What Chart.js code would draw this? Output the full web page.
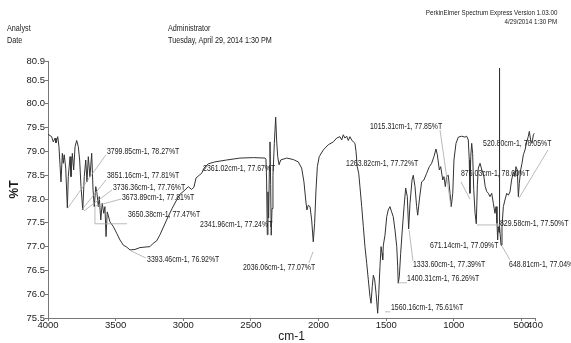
<!DOCTYPE html>
<html><head><meta charset="utf-8">
<script src="https://cdn.jsdelivr.net/npm/chart.js@4.4.1/dist/chart.umd.min.js"></script>
<style>
html,body{margin:0;padding:0;background:#fff;}
#wrap{position:relative;width:571px;height:343px;overflow:hidden;background:#fff;}
canvas{position:absolute;left:0;top:0;}
.t{position:absolute;font-family:"Liberation Sans",Arial,sans-serif;color:#1a1a1a;white-space:nowrap;line-height:1;}
.l{transform:scaleX(0.82);transform-origin:left center;}
.r{transform:scaleX(0.82);transform-origin:right center;}
</style></head><body>
<div id="wrap">
<canvas id="c" width="571" height="343"></canvas>
<div class="t r" style="right:14px;top:9px;font-size:7.6px">PerkinElmer Spectrum Express Version 1.03.00</div>
<div class="t r" style="right:14px;top:18px;font-size:7.6px">4/29/2014 1:30 PM</div>
<div class="t l" style="left:7px;top:24px;font-size:8.8px">Analyst</div>
<div class="t l" style="left:7px;top:36px;font-size:8.8px">Date</div>
<div class="t l" style="left:168px;top:24px;font-size:8.8px">Administrator</div>
<div class="t l" style="left:168px;top:36px;font-size:8.8px">Tuesday, April 29, 2014 1:30 PM</div>
</div>
<script>
// ---- spectrum data (cm-1, %T) ----
const wavenumbers = [4000,3973,3961,3948,3941,3928,3919,3904,3894,3887,3880,3869,3857,3850,3837,3830,3820,3810,3800,3788,3776,3766,3756,3743,3732,3721,3712,3702,3690,3677,3667,3658,3647,3638,3628,3621,3610,3599,3588,3579,3571,3562,3542,3517,3492,3468,3443,3418,3394,3357,3320,3283,3246,3222,3197,3172,3123,3083,3049,3024,2987,2963,2938,2921,2906,2882,2864,2847,2815,2766,2679,2581,2482,2396,2389,2384,2379,2374,2369,2363,2359,2354,2350,2344,2337,2327,2317,2310,2302,2292,2280,2236,2187,2150,2125,2108,2095,2086,2076,2063,2051,2039,2029,2019,2009,1995,1965,1928,1891,1866,1842,1829,1817,1805,1792,1780,1768,1755,1743,1731,1723,1714,1703,1694,1681,1669,1657,1644,1632,1620,1612,1603,1595,1585,1575,1563,1555,1546,1538,1531,1526,1521,1509,1496,1485,1472,1460,1448,1435,1422,1415,1411,1403,1393,1381,1368,1356,1344,1334,1324,1309,1300,1287,1275,1267,1255,1238,1221,1201,1181,1164,1147,1132,1122,1107,1097,1082,1073,1063,1053,1041,1028,1019,1008,999,984,967,942,918,905,893,886,881,875,868,861,853,843,834,826,819,806,793,781,768,757,745,733,720,708,696,688,681,676,671,666,664.5,663,659,651,644,634,622,609,597,585,573,560,548,541,531,523,516,506,496,486,474,461,450,442,432,422,412,405];
const transmittance = [79.36,79.31,79.20,79.28,79.18,79.31,79.10,78.36,78.96,78.75,78.93,78.65,77.81,78.47,78.89,78.47,78.96,78.61,79.10,79.23,79.10,78.82,78.26,77.77,78.47,78.82,78.36,78.89,78.47,78.96,78.19,77.84,78.26,78.12,77.84,78.05,77.56,77.91,77.70,77.84,77.21,77.73,77.52,77.42,77.28,77.14,77.03,76.99,76.93,76.94,76.98,76.99,77.00,77.07,77.12,77.25,77.56,77.80,77.98,78.10,78.19,78.26,78.20,78.25,78.44,78.50,78.54,78.65,78.74,78.78,78.82,78.86,78.87,78.86,78.84,78.40,77.25,78.15,77.60,78.70,79.20,78.30,77.24,77.80,78.50,79.17,79.72,79.24,78.89,78.72,78.82,78.86,78.83,78.78,78.65,78.36,77.98,77.77,77.87,77.84,77.56,77.10,77.49,78.19,78.68,78.89,79.03,79.14,79.20,79.28,79.31,79.24,79.35,79.28,79.32,79.23,79.31,79.24,79.20,79.17,79.00,78.68,78.54,78.26,77.84,77.42,77.00,76.65,76.30,75.95,75.81,76.16,76.40,76.30,76.02,75.60,76.02,76.58,77.00,76.86,76.72,77.03,77.24,77.63,77.77,77.84,77.73,77.63,77.35,77.00,76.58,76.23,76.37,76.86,77.35,77.84,78.23,78.05,77.37,77.91,78.40,78.50,78.26,77.84,77.66,77.98,78.36,78.40,78.54,78.68,78.75,78.89,79.05,78.93,78.61,78.68,78.40,78.47,78.26,78.47,78.50,78.12,77.84,78.12,78.82,79.17,79.30,79.32,79.30,79.32,79.24,78.82,78.12,78.89,79.17,78.96,78.20,77.70,77.48,78.30,78.65,78.75,78.61,78.54,78.26,78.16,78.12,78.05,78.12,77.91,77.70,77.84,77.49,77.14,77.42,77.30,80.75,77.30,77.42,77.03,77.42,77.84,77.98,78.12,78.08,78.15,78.40,78.57,78.47,78.68,78.61,78.05,78.33,78.61,78.75,78.93,79.03,79.20,79.31,79.42,79.24,79.17,79.35,79.38];

// ---- axis ticks ----
const xTickValues = [4000,3500,3000,2500,2000,1500,1000,500,400];
const yTickValues = [75.5,76.0,76.5,77.0,77.5,78.0,78.5,79.0,79.5,80.0,80.5,80.9];

// ---- peak picks (text values) ----
const peakWavenumbers = [3799.85,3851.16,3736.36,3673.89,3650.38,3393.46,2361.02,2341.96,2036.06,1263.82,1015.31,1333.60,1400.31,1560.16,876.03,520.80,829.58,671.14,648.81];
const peakTransmittance = [78.27,77.81,77.76,77.81,77.47,76.92,77.67,77.24,77.07,77.72,77.85,77.39,76.26,75.61,78.00,78.05,77.50,77.09,77.04];

// ---- label placement, in data units (cm-1, %T) ----
const labelAnchorWn = [3564,3564,3520,3453,3409,3268,2854,2876,2559,1797,1620,1302,1346,1465,947,784,659,1176,592];
const labelAnchorT  = [78.99,78.48,78.23,78.02,77.66,76.72,78.63,77.455,76.55,78.74,79.51,76.61,76.32,75.71,78.53,79.16,77.48,77.01,76.61];
// leader polylines in data units
const leaderLines = [
  [[3571,78.93],[3854,77.81]],
  [[3571,78.40],[3751,77.77]],
  [[3527,78.19],[3734,77.75]],
  [[3460,78.00],[3653,77.85]],
  [[3416,77.48],[3653,77.48],[3653,77.83]],
  [[3276,76.76],[3386,76.91]],
  [[2071,76.66],[2041,76.89]],
  [[1102,79.45],[1021,77.83]],
  [[1302,76.70],[1331,77.35]],
  [[1346,76.24],[1413,76.24]],
  [[1509,75.63],[1472,75.63]],
  [[947,78.36],[881,78.00]],
  [[304,79.03],[518,78.02]],
  [[659,77.455],[829,77.455]],
  [[585,76.72],[644,77.01]]
];

const FONT = '"Liberation Sans",Arial,sans-serif';
Chart.defaults.font.family = FONT;
Chart.defaults.color = '#1a1a1a';

const peakPlugin = {
  id: 'peaks',
  afterDatasetsDraw(chart) {
    const ctx = chart.ctx, xs = chart.scales.x, ys = chart.scales.y;
    ctx.save();
    ctx.strokeStyle = '#a8a8a8';
    ctx.lineWidth = 0.8;
    leaderLines.forEach(line => {
      ctx.beginPath();
      line.forEach((p, i) => {
        const px = xs.getPixelForValue(p[0]), py = ys.getPixelForValue(p[1]);
        if (i === 0) ctx.moveTo(px, py); else ctx.lineTo(px, py);
      });
      ctx.stroke();
    });
    ctx.fillStyle = '#1a1a1a';
    ctx.font = '8.2px ' + FONT;
    ctx.textBaseline = 'middle';
    ctx.textAlign = 'left';
    const sx = 0.85;
    peakWavenumbers.forEach((wn, i) => {
      const txt = wn.toFixed(2) + 'cm-1, ' + peakTransmittance[i].toFixed(2) + '%T';
      const px = xs.getPixelForValue(labelAnchorWn[i]), py = ys.getPixelForValue(labelAnchorT[i]);
      ctx.save();
      ctx.translate(px, py);
      ctx.scale(sx, 1);
      ctx.fillText(txt, 0, 0);
      ctx.restore();
    });
    ctx.restore();
  }
};

new Chart(document.getElementById('c'), {
  type: 'line',
  data: {
    datasets: [{
      data: wavenumbers.map((w, i) => ({x: w, y: transmittance[i]})),
      borderColor: '#333333',
      borderWidth: 1,
      pointRadius: 0,
      tension: 0,
      fill: false
    }]
  },
  options: {
    responsive: false,
    animation: false,
    events: [],
    layout: {padding: {left: 0, right: 36, top: 61, bottom: 0}},
    plugins: {legend: {display: false}, tooltip: {enabled: false}},
    scales: {
      x: {
        type: 'linear', reverse: true, min: 400, max: 4000,
        afterBuildTicks: s => { s.ticks = xTickValues.map(v => ({value: v})); },
        afterFit: s => { s.height = 25; },
        ticks: {autoSkip: false, maxRotation: 0, padding: -1, font: {size: 9.5}, color: '#1a1a1a',
                callback: v => String(v)},
        grid: {display: true, drawOnChartArea: false, drawTicks: true, tickLength: 3, color: '#777'},
        border: {display: true, color: '#777', width: 1},
        title: {display: true, text: 'cm-1', font: {size: 12, lineHeight: 1}, padding: {top: 0, bottom: 0}, color: '#1a1a1a'}
      },
      y: {
        type: 'linear', min: 75.5, max: 80.9,
        afterBuildTicks: s => { s.ticks = yTickValues.map(v => ({value: v})); },
        afterFit: s => { s.width = 48; },
        ticks: {padding: 0, font: {size: 9.5}, color: '#1a1a1a', callback: v => Number(v).toFixed(1)},
        grid: {display: true, drawOnChartArea: false, drawTicks: true, tickLength: 3, color: '#777'},
        border: {display: true, color: '#777', width: 1},
        title: {display: true, text: '%T', font: {size: 12, weight: 'bold', lineHeight: 1}, padding: {top: 9, bottom: 0}, color: '#1a1a1a'}
      }
    }
  },
  plugins: [peakPlugin]
});
</script>
</body></html>
